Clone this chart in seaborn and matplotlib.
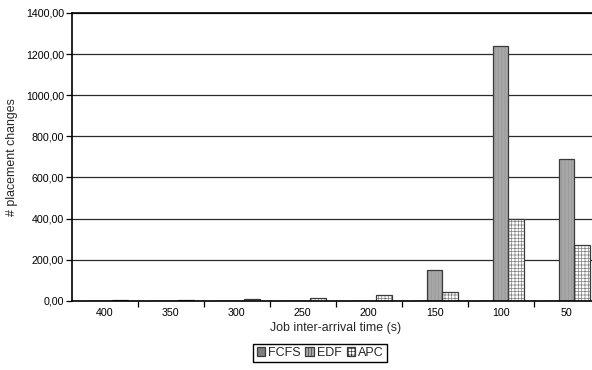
import matplotlib
matplotlib.use("Agg")
import matplotlib.pyplot as plt
from matplotlib.patches import Patch, Rectangle
from matplotlib.ticker import FuncFormatter, MultipleLocator, FixedLocator
import seaborn as sns
import pandas as pd

# Job inter-arrival times (s) and placement changes per scheduler
arrival_times = ["400", "350", "300", "250", "200", "150", "100", "50"]
schedulers = ["FCFS", "EDF", "APC"]
fcfs = [0, 0, 0, 0, 0, 0, 0, 0]
edf = [0, 0, 0, 0, 0, 150, 1240, 690]
apc = [3, 5, 8, 15, 30, 40, 400, 270]

df = pd.DataFrame({
    "time": arrival_times * 3,
    "scheduler": [s for s in schedulers for _ in arrival_times],
    "changes": fcfs + edf + apc,
})

sns.set_theme(style="white")
plt.rcParams["font.family"] = ["Liberation Sans", "DejaVu Sans"]
plt.rcParams["hatch.linewidth"] = 0.5

fig = plt.figure(figsize=(5.92, 3.70), dpi=100)
ax = fig.add_axes([71.7 / 592, 1 - 300.7 / 370, 528 / 592, 287.7 / 370])

edge = "#3a3a3a"
# face colour, hatch pattern and hatch colour of each scheduler
styles = {
    "FCFS": dict(face="#7f7f7f", hatch=None, hcol=edge),
    "EDF": dict(face="#a8a8a8", hatch="|||||", hcol="#959595"),
    "APC": dict(face="#ffffff", hatch="+++++", hcol="#808080"),
}

sns.barplot(data=df, x="time", y="changes", hue="scheduler",
            order=arrival_times, hue_order=schedulers,
            width=0.7, gap=0, ax=ax, legend=False,
            palette={s: styles[s]["face"] for s in schedulers},
            saturation=1)

for cont, s in zip(ax.containers, schedulers):
    st = styles[s]
    for bar in cont:
        bar.set_facecolor(st["face"])
        if st["hatch"]:
            # hatch drawn in its own colour, outline added on top
            bar.set_hatch(st["hatch"])
            bar.set_edgecolor(st["hcol"])
            bar.set_linewidth(0)
            ax.add_patch(Rectangle(bar.get_xy(), bar.get_width(), bar.get_height(),
                                   fill=False, edgecolor=edge, linewidth=0.9, zorder=bar.get_zorder() + 0.1))
        else:
            bar.set_edgecolor(edge)
            bar.set_linewidth(0.9)

ax.set_xlim(-0.5, len(arrival_times) - 0.5)
ax.set_ylim(0, 1400)
ax.yaxis.set_major_locator(MultipleLocator(200))
ax.yaxis.set_major_formatter(FuncFormatter(lambda v, p: f"{v:.2f}".replace(".", ",")))
ax.grid(axis="y", color="#2a2a2a", linewidth=0.9)
ax.set_axisbelow(True)

ax.xaxis.set_minor_locator(FixedLocator([i + 0.5 for i in range(len(arrival_times) - 1)]))
ax.tick_params(axis="x", which="major", length=0, pad=5, labelsize=7.7, colors="black")
ax.tick_params(axis="x", which="minor", length=4, width=0.9, direction="out", color="black", bottom=True)
ax.tick_params(axis="y", length=4, width=0.9, direction="out", left=True, labelsize=7.7, pad=1.5, colors="black")

for side in ["left", "bottom", "top", "right"]:
    ax.spines[side].set_color("black")
    ax.spines[side].set_linewidth(1.2)

ax.set_xlabel("Job inter-arrival time (s)", fontsize=8.9, labelpad=3)
ax.set_ylabel("# placement changes", fontsize=8.9)
ax.yaxis.set_label_coords(-0.1017, 0.5)

handles = []
for s in schedulers:
    st = styles[s]
    handles.append(Patch(facecolor=st["face"], edgecolor=edge if not st["hatch"] else st["hcol"],
                         hatch=st["hatch"], linewidth=0.9))
leg = fig.legend(handles, schedulers, loc="center", bbox_to_anchor=(320 / 592, 1 - 353 / 370),
                 ncol=3, frameon=True, fancybox=False, edgecolor="black", framealpha=1,
                 fontsize=9, handlelength=0.7, handleheight=0.7, handletextpad=0.2,
                 columnspacing=0.4, borderpad=0.25, borderaxespad=0)
for h in leg.legend_handles:
    h.set_edgecolor(edge)

fig.savefig("out.png", dpi=100)
